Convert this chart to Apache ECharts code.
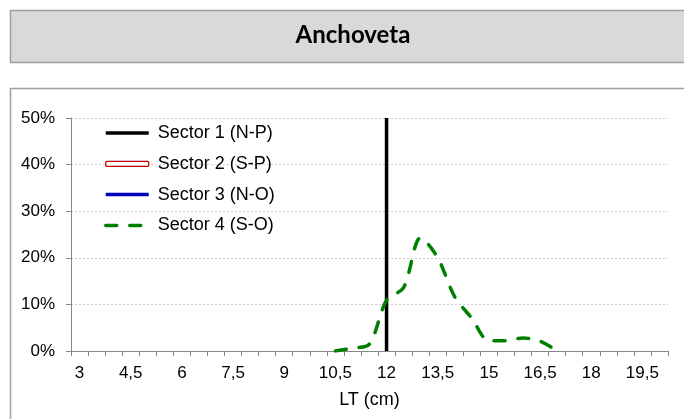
<!DOCTYPE html>
<html>
<head>
<meta charset="utf-8">
<script src="https://cdn.jsdelivr.net/npm/echarts@6/dist/echarts.min.js"></script>
<style>
  html, body { margin: 0; padding: 0; background: #fff; }
  #chart { width: 684px; height: 419px; }
</style>
</head>
<body>
<div id="chart"></div>
<script>
// ---- data ----
const titleText = 'Anchoveta';
const xAxisName = 'LT (cm)';
const categories = ['3','3,5','4','4,5','5','5,5','6','6,5','7','7,5','8','8,5','9','9,5','10','10,5','11','11,5','12','12,5','13','13,5','14','14,5','15','15,5','16','16,5','17','17,5','18','18,5','19','19,5','20'];
const seriesNames = ['Sector 1 (N-P)', 'Sector 2 (S-P)', 'Sector 3 (N-O)', 'Sector 4 (S-O)'];
// Sector 1: vertical reference line at 12 cm, from 0% to 50%
const sector1 = [['12', 0], ['12', 50]];
const sector2 = [];
const sector3 = [];
const sector4 = [null,null,null,null,null,null,null,null,null,null,null,null,null,null,null,
  0, 0.6, 1.5, 10.9, 13.6, 24.3, 20.0, 11.6, 7.0, 2.2, 2.2, 2.8, 2.1, 0,
  null,null,null,null,null,null];
const yTicks = { min: 0, max: 50, interval: 10 };

// ---- chart ----
const chart = echarts.init(document.getElementById('chart'), null, { renderer: 'canvas' });
const axisFont = 'Liberation Sans, Arial, sans-serif';
const gray = '#868686';
const dash4 = [11, 13];

chart.setOption({
  animation: false,
  backgroundColor: '#ffffff',
  graphic: [
    { type: 'rect', z: -10, shape: { x: 10.5, y: 10.5, width: 700, height: 52 },
      style: { fill: '#d9d9d9', stroke: '#a0a0a0', lineWidth: 1.5 } },
    { type: 'text', x: 353, y: 35,
      style: { text: titleText, font: 'bold 24px Lato, "Open Sans", sans-serif', fill: '#000',
               textAlign: 'center', textVerticalAlign: 'middle' } },
    { type: 'rect', z: -10, shape: { x: 10.5, y: 88.5, width: 700, height: 400 },
      style: { fill: '#ffffff', stroke: '#a0a0a0', lineWidth: 1.5 } }
  ],
  grid: { left: 71, right: 16, top: 118, bottom: 68, containLabel: false },
  legend: {
    orient: 'vertical', left: 104, top: 123, padding: 0,
    itemWidth: 43, itemHeight: 5, itemGap: 10.8,
    itemStyle: { opacity: 0 },
    textStyle: { fontFamily: axisFont, fontSize: 18, color: '#000', lineHeight: 20, padding: [0, 0, 0, 4] },
    data: [
      { name: seriesNames[0], lineStyle: { width: 3.5, color: '#000000', type: 'solid' } },
      { name: seriesNames[1], icon: 'roundRect',
        itemStyle: { opacity: 1, color: '#ffffff', borderColor: '#c00000', borderWidth: 1.3 } },
      { name: seriesNames[2], lineStyle: { width: 3.5, color: '#0000c0', type: 'solid' } },
      { name: seriesNames[3], lineStyle: { width: 3.5, color: '#008000', type: dash4, cap: 'round' } }
    ]
  },
  xAxis: {
    type: 'category',
    data: categories,
    boundaryGap: true,
    name: xAxisName,
    nameLocation: 'middle',
    nameGap: 40,
    nameTextStyle: { fontFamily: axisFont, fontSize: 18, color: '#000' },
    axisLine: { show: true, lineStyle: { color: gray, width: 1 } },
    axisTick: { show: true, interval: 0, length: 5, inside: false, lineStyle: { color: gray } },
    axisLabel: { interval: 2, margin: 14, fontFamily: axisFont, fontSize: 17, color: '#000' },
    splitLine: { show: false }
  },
  yAxis: {
    type: 'value',
    min: yTicks.min, max: yTicks.max, interval: yTicks.interval,
    axisLine: { show: true, lineStyle: { color: gray, width: 1 } },
    axisTick: { show: true, length: 5, inside: false, lineStyle: { color: gray } },
    axisLabel: { formatter: '{value}%', margin: 16, fontFamily: axisFont, fontSize: 17, color: '#000', padding: [5, 0, 0, 0] },
    splitLine: { show: true, lineStyle: { color: '#d0d0d0', width: 1, type: [2, 2] } }
  },
  series: [
    { name: seriesNames[0], type: 'line', data: sector1, symbol: 'none',
      lineStyle: { color: '#000000', width: 3.5 }, itemStyle: { color: '#000000' }, z: 2 },
    { name: seriesNames[1], type: 'line', data: sector2, symbol: 'none',
      lineStyle: { color: '#c00000', width: 3 }, itemStyle: { color: '#c00000' }, z: 3 },
    { name: seriesNames[2], type: 'line', data: sector3, symbol: 'none',
      lineStyle: { color: '#0000c0', width: 3.5 }, itemStyle: { color: '#0000c0' }, z: 4 },
    { name: seriesNames[3], type: 'line', data: sector4, symbol: 'none', smooth: 0.3,
      connectNulls: false,
      lineStyle: { color: '#008000', width: 3.5, type: dash4, cap: 'round' },
      itemStyle: { color: '#008000' }, z: 5 }
  ]
});
</script>
</body>
</html>
